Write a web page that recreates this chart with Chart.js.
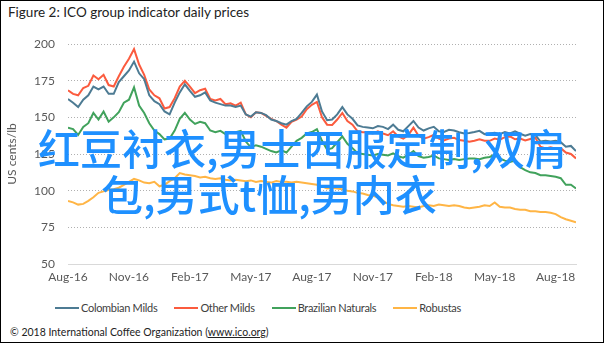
<!DOCTYPE html>
<html>
<head>
<meta charset="utf-8">
<script src="https://cdn.jsdelivr.net/npm/chart.js@4.4.0/dist/chart.umd.min.js"></script>
<style>
    body { margin: 0; background: #fff; }
    .frame {
        position: relative;
        width: 604px;
        height: 343px;
        box-sizing: border-box;
        border: 1px solid #000;
        background: #fff;
        overflow: hidden;
        font-family: Lato, sans-serif;
    }
    .title { position: absolute; left: 7px; top: 3px; font-size: 13.5px; color: #222; }
    .chart-box { position: absolute; left: 0; top: 0; width: 602px; height: 292px; }
    .legend {
        position: absolute;
        left: 54px;
        top: 300px;
        display: flex;
        align-items: center;
        font-size: 11px;
        letter-spacing: -0.3px;
        color: #404040;
        white-space: nowrap;
    }
    .legend .item { display: flex; align-items: center; margin-right: 17px; }
    .legend .swatch { width: 24px; height: 2px; margin-right: 2px; }
    .footer { position: absolute; left: 9px; top: 325px; font-size: 10.5px; color: #222; }
    .footer span { text-decoration: underline; }
    .overlay {
        position: absolute;
        color: #1e90ff;
        font-family: "Noto Sans CJK SC", sans-serif;
        font-weight: 500;
        font-size: 42px;
        line-height: 46px;
        white-space: nowrap;
    }
</style>
</head>
<body>
<div class="frame">
    <div class="title">Figure 2: ICO group indicator daily prices</div>
    <div class="chart-box"><canvas id="pricesChart"></canvas></div>
    <div class="legend" id="pricesLegend"></div>
    <div class="overlay" style="left:37px; top:123px;">红豆衬衣,男士西服定制,双肩</div>
    <div class="overlay" style="left:100px; top:169px;">包,男式t恤,男内衣</div>
    <div class="footer">© 2018 International Coffee Organization (<span>www.ico.org</span>)</div>
</div>
<script>
// Étiquettes de l'axe des dates (un repère tous les trois mois)
const tickLabels = ['Aug-16', 'Nov-16', 'Feb-17', 'May-17', 'Aug-17', 'Nov-17', 'Feb-18', 'May-18', 'Aug-18'];
const weeksPerTick = 12;

// Prix hebdomadaires, US cents/lb
const colombianMilds = [
    162.5, 160, 157, 162, 165, 171, 169, 171, 166, 166,
    174, 178, 182, 188, 180, 176, 165, 161, 159, 154,
    152, 160, 167, 172.5, 168, 164, 165, 167, 161.5, 160,
    159, 158, 158, 157, 158, 152, 150.5, 153.5, 153, 151.5,
    148.5, 147.5, 146, 145, 147.5, 149, 153, 157.5, 160.5, 165.5,
    154, 148, 148.5, 152, 157, 152, 149, 144.5, 143.5, 143,
    142.5, 144, 143.5, 142, 145, 141.5, 140.5, 144, 147.5, 143,
    141, 142.5, 143.5, 140.5, 140, 141.5, 141, 139.8, 139, 139.3,
    140, 140.8, 138.5, 139, 139.5, 138.5, 140, 139, 140.5, 138.8,
    137.5, 138.6, 138, 133.5, 134, 133.5, 134, 133, 130, 130.5,
    127
];
const otherMilds = [
    168.5, 166, 165, 170, 171.5, 178.5, 176, 179, 172, 171,
    178, 184.5, 190, 196.5, 186, 179, 169, 165, 163, 156,
    157, 163, 171, 175, 171, 166.5, 168.5, 169.5, 162.5, 161.5,
    162.5, 159, 159.5, 158, 160, 152, 150, 153.5, 153, 151,
    149, 147.5, 145, 143, 147, 148.5, 150.5, 155.5, 158.5, 160.5,
    150, 145, 144.8, 148.5, 153, 147.5, 145, 140.5, 139.8, 139.8,
    139, 140.5, 139, 137.8, 140.5, 137, 135.5, 138, 143, 137.5,
    135.5, 136.5, 138, 135.5, 134.3, 135.5, 136, 134.5, 134, 133.3,
    134, 135, 134, 134, 135.5, 134.8, 136.5, 137, 135, 135.5,
    134.2, 135.2, 136, 130, 128.8, 129.5, 128.6, 129, 126, 125,
    122
];
const brazilianNaturals = [
    143, 142, 138, 143.5, 146, 153, 148.5, 154, 147, 150,
    153.5, 160, 162, 170.5, 158, 153, 146, 141, 138.6, 135,
    135.5, 141, 149, 153, 148.5, 145.5, 147, 146, 141, 139.8,
    140.8, 138.6, 139.8, 139.8, 140.8, 133.5, 129.5, 131, 130, 128.5,
    127, 126, 127.5, 126, 130, 134, 136, 139, 140, 142,
    134, 128, 129, 133, 137, 132, 129, 125.5, 125, 124.5,
    124, 125, 124.5, 124, 125.5, 123.5, 122.5, 124.5, 127, 123.5,
    122.5, 123, 124, 122, 121.5, 121, 121.5, 121, 121.5, 122,
    122, 121.5, 122.5, 123, 124.5, 122, 120.5, 119.5, 120.5, 116,
    114, 112.5, 112, 110.5, 110.5, 110, 109.5, 108.5, 104, 104,
    101.5
];
const robustas = [
    93, 92, 90.5, 91, 93, 95.5, 98.5, 99.5, 100.5, 101,
    102, 104, 106, 108, 107, 105.5, 105, 106, 103, 104,
    106.5, 108.5, 112, 111, 110.5, 110, 109, 109.5, 108.5, 108,
    108.5, 107.5, 107, 107.5, 107, 106.5, 107, 106, 106.5, 106,
    105.5, 106.5, 106, 106, 105.5, 106, 105.5, 105, 104.5, 104,
    103, 101.5, 102, 101.5, 101, 100, 99.5, 98.5, 98, 97,
    96.5, 95.5, 93, 91, 90, 89.5, 89, 89.5, 89, 88.5,
    89.5, 90, 89.5, 90.5, 90, 89.5, 90, 89.5, 88.5, 88,
    88.5, 89, 90, 89.5, 92, 89, 88.5, 88.5, 87.5, 87,
    87, 86, 86, 85.5, 85.5, 85, 84, 82, 80.5, 79.5,
    78.5
];

// Style commun des séries
function serie(label, data, color) {
    return {
        label: label,
        data: data,
        borderColor: color,
        backgroundColor: color,
        borderWidth: 2,
        pointRadius: 0,
        tension: 0
    };
}

const tickFont = { family: 'Lato', size: 12 };

const pricesCtx = document.getElementById('pricesChart').getContext('2d');
const pricesChart = new Chart(pricesCtx, {
    type: 'line',
    data: {
        labels: colombianMilds.map((v, i) => i),
        datasets: [
            serie('Colombian Milds', colombianMilds, '#4d7b93'),
            serie('Other Milds', otherMilds, '#fb5b3e'),
            serie('Brazilian Naturals', brazilianNaturals, '#41a25c'),
            serie('Robustas', robustas, '#ffb545')
        ]
    },
    options: {
        responsive: true,
        maintainAspectRatio: false,
        animation: false,
        devicePixelRatio: 1,
        layout: {
            padding: { top: 43, right: 27, left: 0, bottom: 0 }
        },
        plugins: {
            legend: { display: false },
            tooltip: { enabled: false }
        },
        scales: {
            x: {
                type: 'linear',
                min: 0,
                max: colombianMilds.length - 1,
                grid: { display: false, drawTicks: false },
                border: { display: true, color: '#d9d9d9' },
                afterBuildTicks: scale => {
                    scale.ticks = tickLabels.map((t, i) => ({ value: i * weeksPerTick }));
                },
                afterFit: scale => { scale.height = 29; },
                ticks: {
                    padding: 6,
                    color: '#595959',
                    font: tickFont,
                    maxRotation: 0,
                    autoSkip: false,
                    callback: value => tickLabels[value / weeksPerTick]
                }
            },
            y: {
                min: 50,
                max: 200,
                grid: { color: '#b0b0b0', drawTicks: false },
                border: { display: false, dash: [1, 2] },
                afterFit: scale => { scale.width = 67; },
                ticks: {
                    stepSize: 25,
                    padding: 13,
                    color: '#595959',
                    font: tickFont
                },
                title: {
                    display: true,
                    text: 'US cents/lb',
                    color: '#595959',
                    font: { family: 'Lato', size: 12 }
                }
            }
        }
    }
});

// Légende en HTML sous le graphique
const legend = document.getElementById('pricesLegend');
pricesChart.data.datasets.forEach(ds => {
    const item = document.createElement('div');
    item.className = 'item';
    item.innerHTML = '<span class="swatch" style="background:' + ds.borderColor + '"></span>' + ds.label;
    legend.appendChild(item);
});
</script>
</body>
</html>
